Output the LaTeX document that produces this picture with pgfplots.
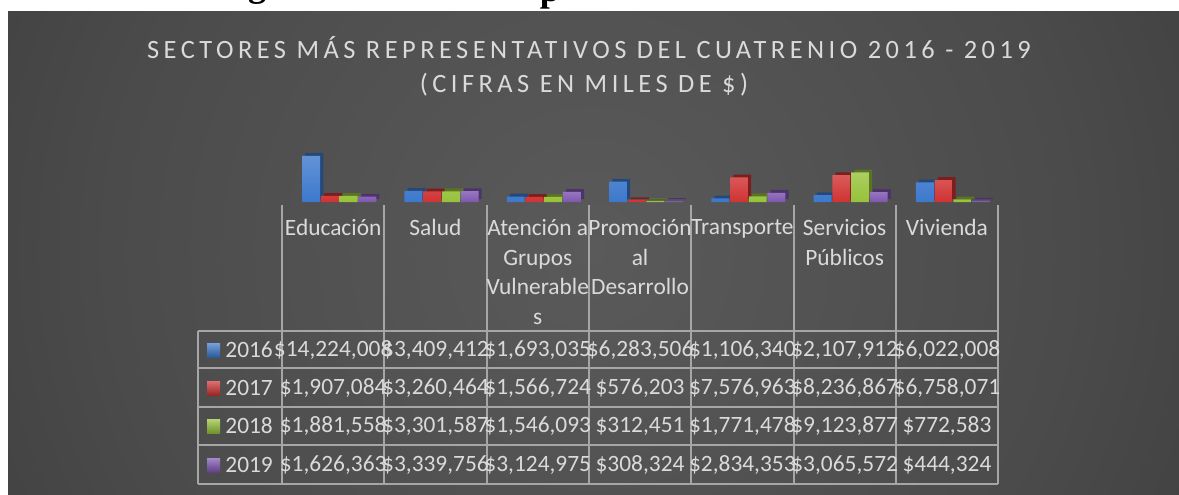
\documentclass[border=0pt]{standalone}
\usepackage{pgfplots}
\usepackage{pgfplotstable}
\pgfplotsset{compat=1.18}
\usepackage{fontspec}
\setmainfont{Carlito}
\newfontfamily\titlefont[LetterSpace=17]{Carlito}
\newfontfamily\capfont{Liberation Serif}
\definecolor{c2016}{HTML}{3C78CC}
\definecolor{c2017}{HTML}{D03232}
\definecolor{c2018}{HTML}{96C23A}
\definecolor{c2019}{HTML}{7E56B0}
\definecolor{gridc}{HTML}{A6A6A6}
\definecolor{txt}{HTML}{DADADA}
\definecolor{bgA}{HTML}{5A5A5A}
\definecolor{bgB}{HTML}{4B4B4B}
\definecolor{bgC}{HTML}{282828}
\definecolor{bgD}{HTML}{222222}
\pgfdeclareradialshading{bgshade}{\pgfpoint{0bp}{0bp}}{color(0bp)=(bgA); color(20bp)=(bgB); color(50bp)=(bgC); color(70bp)=(bgD)}

% values in thousands of $
\pgfplotstableread{
x  y2016     y2017     y2018     y2019
0  14224.008 1907.084  1881.558  1626.363
1  3409.412  3260.464  3301.587  3339.756
2  1693.035  1566.724  1546.093  3124.975
3  6283.506  576.203   312.451   308.324
4  1106.340  7576.963  1771.478  2834.353
5  2107.912  8236.867  9123.877  3065.572
6  6022.008  6758.071  772.583   444.324
}\datatab

\begin{document}
\begin{tikzpicture}
\begin{scope}[x=0.5pt,y=-0.5pt]
\path[use as bounding box] (0,0) rectangle (1179,494);
% caption fragments (cut at top)
\begin{scope}
\clip (0,0) rectangle (1179,11);
\node[anchor=base, inner sep=0pt, font=\capfont\bfseries\fontsize{18}{20}\selectfont] at (257,-4) {g};
\node[anchor=base, inner sep=0pt, font=\capfont\bfseries\fontsize{18}{20}\selectfont] at (550,1) {p};
\end{scope}
% background
\begin{scope}
\clip (8,11) rectangle (1179,494);
\shade[shading=bgshade] (-10,-350) rectangle (1190,850);
\end{scope}
% title
\node[font=\titlefont\fontsize{13.2}{16}\selectfont, text=txt, anchor=base, inner sep=0pt] at (589,58) {SECTORES MÁS REPRESENTATIVOS DEL CUATRENIO 2016 - 2019};
\node[font=\titlefont\fontsize{13.2}{16}\selectfont, text=txt, anchor=base, inner sep=0pt] at (584,92) {(CIFRAS EN MILES DE \$)};
\end{scope}

\begin{axis}[
  at={(141pt,-101pt)}, anchor=south west,
  scale only axis, width=358pt, height=26pt,
  xmin=-0.5, xmax=6.5, ymin=0, ymax=16000,
  hide axis, clip=false,
  ybar, bar width=0.175,
  back/.style={draw=none, xshift=1.6pt, yshift=1.4pt},
  front/.style={draw=none},
]
\addplot[back, fill=c2016!60!black, bar shift=-0.215] table[x=x,y=y2016] {\datatab};
\addplot[front, top color=c2016!80!white, bottom color=c2016, bar shift=-0.215] table[x=x,y=y2016] {\datatab};
\addplot[back, fill=c2017!60!black, bar shift=-0.032] table[x=x,y=y2017] {\datatab};
\addplot[front, top color=c2017!80!white, bottom color=c2017, bar shift=-0.032] table[x=x,y=y2017] {\datatab};
\addplot[back, fill=c2018!60!black, bar shift=0.151] table[x=x,y=y2018] {\datatab};
\addplot[front, top color=c2018!80!white, bottom color=c2018, bar shift=0.151] table[x=x,y=y2018] {\datatab};
\addplot[back, fill=c2019!60!black, bar shift=0.334] table[x=x,y=y2019] {\datatab};
\addplot[front, top color=c2019!80!white, bottom color=c2019, bar shift=0.334] table[x=x,y=y2019] {\datatab};
\end{axis}

\begin{scope}[x=0.5pt,y=-0.5pt]
% data table grid
\begin{scope}[draw=gridc, line width=1pt]
\foreach \i in {0,...,7} {
  \draw ({282+102.3*\i},205) -- ({282+102.3*\i},484);
}
\draw (198,331) -- (198,484);
\foreach \yy in {331,368,407,445,484} {
  \draw (198,\yy) -- (998,\yy);
}
\end{scope}
% category labels
\begin{scope}[every node/.style={font=\fontsize{11.7}{14.75}\selectfont, text=txt, align=center, anchor=north, inner sep=0pt}]
\node at ({282+102.3*0.5},219) {Educación};
\node at ({282+102.3*1.5},219) {Salud};
\node at ({282+102.3*2.5},219) {Atención a\\Grupos\\Vulnerable\\s};
\node at ({282+102.3*3.5},219) {Promoción\\al\\Desarrollo};
\node at ({282+102.3*4.5},219) {Transporte};
\node at ({282+102.3*5.5},219) {Servicios\\Públicos};
\node at ({282+102.3*6.5},219) {Vivienda};
\end{scope}
% legend keys
\begin{scope}[every node/.style={font=\fontsize{11.7}{12}\selectfont, text=txt, inner sep=0pt}]
\foreach \yr/\c/\yy in {2016/c2016/350,2017/c2017/388,2018/c2018/426,2019/c2019/465} {
  \shade[top color=\c!70!white, bottom color=\c!75!black] (207,\yy-7) rectangle (220,\yy+7);
  \node[anchor=west] at (225,\yy) {\yr};
}
\end{scope}
% values
\begin{scope}[every node/.style={font=\fontsize{11.7}{12}\selectfont, text=txt, inner sep=0pt}]
\node at ({282+102.3*0.5},350) {\$14,224,008};
\node at ({282+102.3*1.5},350) {\$3,409,412};
\node at ({282+102.3*2.5},350) {\$1,693,035};
\node at ({282+102.3*3.5},350) {\$6,283,506};
\node at ({282+102.3*4.5},350) {\$1,106,340};
\node at ({282+102.3*5.5},350) {\$2,107,912};
\node at ({282+102.3*6.5},350) {\$6,022,008};
\node at ({282+102.3*0.5},388) {\$1,907,084};
\node at ({282+102.3*1.5},388) {\$3,260,464};
\node at ({282+102.3*2.5},388) {\$1,566,724};
\node at ({282+102.3*3.5},388) {\$576,203};
\node at ({282+102.3*4.5},388) {\$7,576,963};
\node at ({282+102.3*5.5},388) {\$8,236,867};
\node at ({282+102.3*6.5},388) {\$6,758,071};
\node at ({282+102.3*0.5},426) {\$1,881,558};
\node at ({282+102.3*1.5},426) {\$3,301,587};
\node at ({282+102.3*2.5},426) {\$1,546,093};
\node at ({282+102.3*3.5},426) {\$312,451};
\node at ({282+102.3*4.5},426) {\$1,771,478};
\node at ({282+102.3*5.5},426) {\$9,123,877};
\node at ({282+102.3*6.5},426) {\$772,583};
\node at ({282+102.3*0.5},465) {\$1,626,363};
\node at ({282+102.3*1.5},465) {\$3,339,756};
\node at ({282+102.3*2.5},465) {\$3,124,975};
\node at ({282+102.3*3.5},465) {\$308,324};
\node at ({282+102.3*4.5},465) {\$2,834,353};
\node at ({282+102.3*5.5},465) {\$3,065,572};
\node at ({282+102.3*6.5},465) {\$444,324};
\end{scope}
\end{scope}
\end{tikzpicture}
\end{document}
